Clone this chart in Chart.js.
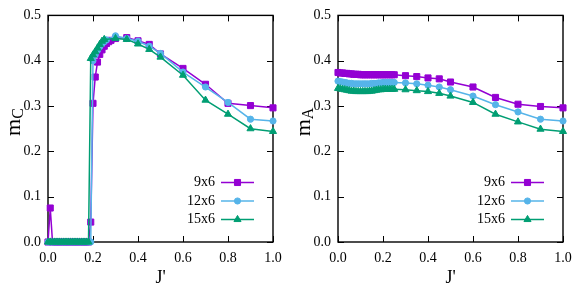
<!DOCTYPE html>
<html>
<head>
<meta charset="utf-8">
<script src="https://cdn.jsdelivr.net/npm/chart.js@4.4.1/dist/chart.umd.min.js"></script>
<style>
  html, body { margin:0; padding:0; background:#fff; }
  #wrap { position:relative; width:581px; height:291px; }
  .box { position:absolute; top:0; width:290px; height:291px; }
</style>
</head>
<body>
<div id="wrap">
  <div class="box" style="left:0"><canvas id="left" width="290" height="291"></canvas></div>
  <div class="box" style="left:290px"><canvas id="right" width="290" height="291"></canvas></div>
</div>
<script>
// series names + colours (gnuplot defaults)
const names = ['9x6', '12x6', '15x6'];
const colors = ['#9400d3', '#56b4e9', '#009e73'];
const markers = ['rect', 'circle', 'triangle'];

// left panel: m_C vs J'
const jC9  = [0,0.01,0.02,0.03,0.04,0.05,0.06,0.07,0.08,0.09,0.10,0.11,0.12,0.13,0.14,0.15,0.16,0.17,0.18,
              0.19,0.20,0.21,0.22,0.23,0.24,0.25,0.26,0.27,0.28,0.30,0.35,0.40,0.45,0.50,0.60,0.70,0.80,0.90,1.00];
const mC9  = [0,0.075,0,0,0,0,0,0,0,0,0,0,0,0,0,0,0,0,0,
              0.044,0.306,0.364,0.397,0.414,0.424,0.432,0.438,0.442,0.445,0.449,0.451,0.444,0.436,0.415,0.383,0.348,0.306,0.301,0.296];
const jC12 = [0,0.01,0.02,0.03,0.04,0.05,0.06,0.07,0.08,0.09,0.10,0.11,0.12,0.13,0.14,0.15,0.16,0.17,0.18,0.19,
              0.20,0.21,0.22,0.23,0.24,0.25,0.26,0.30,0.35,0.40,0.45,0.50,0.60,0.70,0.80,0.90,1.00];
const mC12 = [0,0,0,0,0,0,0,0,0,0,0,0,0,0,0,0,0,0,0,0,
              0.400,0.413,0.423,0.431,0.437,0.442,0.446,0.455,0.449,0.443,0.432,0.416,0.375,0.342,0.308,0.271,0.267];
const jC15 = [0,0.01,0.02,0.03,0.04,0.05,0.06,0.07,0.08,0.09,0.10,0.11,0.12,0.13,0.14,0.15,0.16,0.17,0.18,
              0.19,0.20,0.21,0.22,0.23,0.24,0.25,0.30,0.35,0.40,0.45,0.50,0.60,0.70,0.80,0.90,1.00];
const mC15 = [0,0,0,0,0,0,0,0,0,0,0,0,0,0,0,0,0,0,0,
              0.405,0.413,0.420,0.428,0.436,0.443,0.447,0.449,0.447,0.437,0.425,0.408,0.368,0.313,0.282,0.250,0.244];

// right panel: m_A vs J'
const jA = [0,0.01,0.02,0.03,0.04,0.05,0.06,0.07,0.08,0.09,0.10,0.11,0.12,0.13,0.14,0.15,0.16,0.17,0.18,0.19,
            0.20,0.21,0.22,0.23,0.24,0.25,0.30,0.35,0.40,0.45,0.50,0.60,0.70,0.80,0.90,1.00];
const mA9  = [0.374,0.373,0.373,0.372,0.372,0.371,0.371,0.370,0.370,0.370,0.369,0.369,0.369,0.369,0.369,0.369,0.369,0.369,0.369,0.369,
              0.369,0.369,0.369,0.369,0.369,0.369,0.367,0.365,0.362,0.360,0.353,0.342,0.319,0.304,0.299,0.296];
const mA12 = [0.355,0.354,0.353,0.352,0.351,0.350,0.350,0.349,0.349,0.349,0.349,0.349,0.349,0.349,0.349,0.350,0.350,0.350,0.351,0.351,
              0.352,0.352,0.352,0.352,0.352,0.352,0.351,0.349,0.346,0.342,0.336,0.322,0.303,0.287,0.271,0.267];
const mA15 = [0.339,0.338,0.337,0.336,0.335,0.334,0.333,0.333,0.332,0.332,0.332,0.332,0.332,0.332,0.333,0.333,0.334,0.335,0.336,0.336,
              0.337,0.337,0.337,0.337,0.337,0.337,0.336,0.334,0.332,0.328,0.322,0.308,0.282,0.265,0.249,0.244];

const xTicks = [0,0.2,0.4,0.6,0.8,1.0];
const yTicks = [0,0.1,0.2,0.3,0.4,0.5];
const xTitle = "J'";

const SERIF = '"Liberation Serif", "DejaVu Serif", serif';
const pts = (xs, ys) => xs.map((x,i)=>({x:x, y:ys[i]}));
const sizes = { rect:4.3, circle:3.1, triangle:4.1 };

// later series drawn on top, like gnuplot
function ds(i, xs, ys){
  return { label:names[i], data:pts(xs,ys), showLine:true, borderColor:colors[i], backgroundColor:colors[i],
    borderWidth:1.5, pointStyle:markers[i], pointRadius:sizes[markers[i]], pointBorderWidth:1, clip:false,
    order:names.length-i };
}

// frame + inward ticks on all sides (gnuplot look), drawn under the data
const framePlugin = {
  id:'frame',
  beforeDatasetsDraw(chart){
    const {ctx, chartArea:a, scales:{x,y}} = chart;
    ctx.save();
    ctx.strokeStyle='#000'; ctx.lineWidth=1;
    ctx.beginPath();
    xTicks.forEach(v=>{ const px=Math.round(x.getPixelForValue(v))+0.5;
      ctx.moveTo(px,a.bottom); ctx.lineTo(px,a.bottom-6); ctx.moveTo(px,a.top); ctx.lineTo(px,a.top+6); });
    yTicks.forEach(v=>{ const py=Math.round(y.getPixelForValue(v))+0.5;
      ctx.moveTo(a.left,py); ctx.lineTo(a.left+6,py); ctx.moveTo(a.right,py); ctx.lineTo(a.right-6,py); });
    ctx.stroke();
    ctx.lineWidth=1.4;
    ctx.strokeRect(a.left,a.top,a.right-a.left,a.bottom-a.top);
    ctx.restore();
  },
  afterDraw(chart, args, opts){
    const {ctx, chartArea:a} = chart;
    ctx.save();
    ctx.fillStyle='#000';
    // y title with subscript
    ctx.translate(20, 122); ctx.rotate(-Math.PI/2);
    ctx.font='22px '+SERIF; const wm=ctx.measureText('m').width;
    ctx.font='16px '+SERIF; const ws=ctx.measureText(opts.sub).width;
    let sx=-(wm+ws)/2;
    ctx.textBaseline='alphabetic'; ctx.textAlign='left';
    ctx.font='22px '+SERIF; ctx.fillText('m', sx, 0);
    ctx.font='16px '+SERIF; ctx.fillText(opts.sub, sx+wm, 3);
    ctx.setTransform(1,0,0,1,0,0);
    // x title
    ctx.font='18px '+SERIF; ctx.textAlign='center';
    ctx.fillText(xTitle, (a.left+a.right)/2, 283);
    // legend, bottom right inside
    const rows=[182.5,201,219.5];
    chart.data.datasets.forEach((d,i)=>{
      const yy=rows[i];
      ctx.font='14px '+SERIF; ctx.textAlign='right'; ctx.textBaseline='middle'; ctx.fillStyle='#000';
      ctx.fillText(d.label, 215, yy);
      ctx.strokeStyle=d.borderColor; ctx.lineWidth=1.5;
      ctx.beginPath(); ctx.moveTo(221,yy); ctx.lineTo(254,yy); ctx.stroke();
      ctx.fillStyle=d.backgroundColor; ctx.lineWidth=1;
      Chart.helpers.drawPoint(ctx,{pointStyle:d.pointStyle, radius:d.pointRadius, rotation:0, borderWidth:1}, 237.5, yy);
    });
    ctx.restore();
  }
};

function makeChart(id, sets, sub){
  return new Chart(document.getElementById(id), {
    type:'scatter',
    data:{ datasets:sets },
    plugins:[framePlugin],
    options:{
      responsive:false, animation:false, events:[],
      layout:{ padding:{ left:0, top:14, right:17, bottom:0 } },
      plugins:{ legend:{display:false}, tooltip:{enabled:false}, frame:{ sub:sub } },
      scales:{
        x:{ type:'linear', min:0, max:1, grid:{display:false, drawTicks:false}, border:{display:false},
            afterFit:s=>{ s.height=49; },
            afterBuildTicks:s=>{ s.ticks=xTicks.map(v=>({value:v})); },
            ticks:{ padding:8, color:'#000', font:{family:SERIF, size:14}, callback:v=>v.toFixed(1), maxRotation:0 } },
        y:{ type:'linear', min:0, max:0.5, grid:{display:false, drawTicks:false}, border:{display:false},
            afterFit:s=>{ s.width=48; },
            afterBuildTicks:s=>{ s.ticks=yTicks.map(v=>({value:v})); },
            ticks:{ padding:7, color:'#000', font:{family:SERIF, size:14}, callback:v=>v.toFixed(1) } }
      }
    }
  });
}

makeChart('left', [ds(0,jC9,mC9), ds(1,jC12,mC12), ds(2,jC15,mC15)], 'C');
makeChart('right', [ds(0,jA,mA9), ds(1,jA,mA12), ds(2,jA,mA15)], 'A');
</script>
</body>
</html>
